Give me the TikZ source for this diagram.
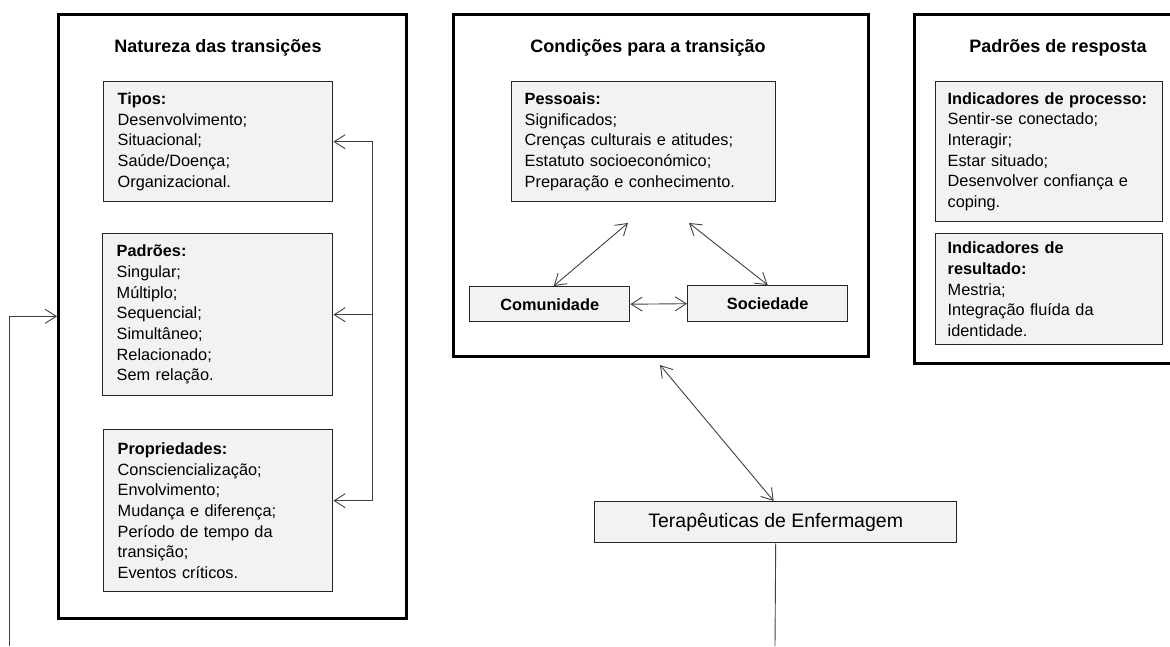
\documentclass[tikz,border=0pt]{standalone}
\usepackage{fontspec}
\setmainfont{Liberation Sans}
\usetikzlibrary{arrows.meta}
\definecolor{boxgray}{HTML}{F2F2F2}
\definecolor{linegray}{HTML}{404040}
\begin{document}
\begin{tikzpicture}[x=1pt,y=-1pt,
  >={Straight Barb[length=11pt,width=14pt]},
  outerbox/.style={draw=black, line width=2.6pt, anchor=north west, inner sep=0pt},
  innerbox/.style={draw=black!85, line width=1.4pt, fill=boxgray, anchor=north west,
     align=left, inner ysep=0pt, font=\fontsize{16.3}{20.7}\selectfont},
  smallbox/.style={draw=black!85, line width=1.4pt, fill=boxgray, anchor=north west,
     align=center, inner sep=0pt, font=\fontsize{16.3}{20.7}\selectfont\bfseries},
  titletext/.style={anchor=base, font=\fontsize{18}{22}\selectfont\bfseries},
  conn/.style={draw=linegray, line width=0.9pt}
]
\useasboundingbox (0,0) rectangle (1170,646);

% outer boxes
\node[outerbox, minimum width=348pt, minimum height=604pt] (box1) at (57,13) {};
\node[outerbox, minimum width=415pt, minimum height=342pt] (box2) at (452,13) {};
\node[outerbox, minimum width=262pt, minimum height=349pt] (box3) at (913,13) {};

% titles
\node[titletext] (t1) at (218,52) {Natureza das transições};
\node[titletext] (t2) at (648,52) {Condições para a transição};
\node[titletext] (t3) at (1058,52) {Padrões de resposta};

% Natureza
\node[innerbox, text width=201pt, inner xsep=14pt, minimum height=120pt] (tipos) at (103,81)
  {\textbf{Tipos:}\\Desenvolvimento;\\Situacional;\\Saúde/Doença;\\Organizacional.};
\node[innerbox, text width=202pt, inner xsep=14pt, minimum height=162pt] (pad) at (102,233)
  {\textbf{Padrões:}\\Singular;\\Múltiplo;\\Sequencial;\\Simultâneo;\\Relacionado;\\Sem relação.};
\node[innerbox, text width=201pt, inner xsep=14pt, minimum height=162pt] (prop) at (103,429)
  {\textbf{Propriedades:}\\Consciencialização;\\Envolvimento;\\Mudança e diferença;\\Período de tempo da\\transição;\\Eventos críticos.};

% Condições
\node[innerbox, text width=238pt, inner xsep=13pt, minimum height=120pt] (pess) at (511,81)
  {\textbf{Pessoais:}\\Significados;\\Crenças culturais e atitudes;\\Estatuto socioeconómico;\\Preparação e conhecimento.};
\node[smallbox, minimum width=160pt, minimum height=35pt] (com) at (469,286) {Comunidade};
\node[smallbox, minimum width=160pt, minimum height=36pt] (soc) at (687,285) {Sociedade};

% Padrões de resposta
\node[innerbox, text width=203pt, inner xsep=12pt, minimum height=140pt] (proc) at (935,81)
  {\textbf{Indicadores de processo:}\\Sentir-se conectado;\\Interagir;\\Estar situado;\\Desenvolver confiança e\\coping.};
\node[innerbox, text width=203pt, inner xsep=12pt, minimum height=111pt] (res) at (935,233)
  {\textbf{Indicadores de}\\\textbf{resultado:}\\Mestria;\\Integração fluída da\\identidade.};

% Terapêuticas
\node[draw=black!85, line width=1.4pt, fill=boxgray, anchor=north west, inner sep=0pt,
  minimum width=362pt, minimum height=41pt, font=\fontsize{19.5}{23}\selectfont] (ter) at (594,501)
  {Terapêuticas de Enfermagem};

% coordinates
\coordinate (bx) at (372,0);
\coordinate (propA) at ([yshift=10pt]prop.east);
\coordinate (lb) at (9,646);
\coordinate (pA) at (628,223);
\coordinate (pB) at (689,223);
\coordinate (b2s) at (660,365);
\coordinate (tb) at (775,646);

% connectors
\draw[conn, <->] (tipos.east) -- (bx|-tipos.east) -- (bx|-propA) -- (propA);
\draw[conn, ->] (bx|-pad.east) -- (pad.east);
\draw[conn, ->] (lb) -- (lb|-box1.west) -- (box1.west);
\draw[conn, <->] (pA) -- ([xshift=4pt]com.north);
\draw[conn, <->] (pB) -- (soc.north);
\draw[conn, <->] (com.east) -- (soc.west);
\draw[conn, <->] (b2s) -- ([xshift=-2pt]ter.north);
\draw[conn] (ter.south) -- (tb);
\end{tikzpicture}
\end{document}
